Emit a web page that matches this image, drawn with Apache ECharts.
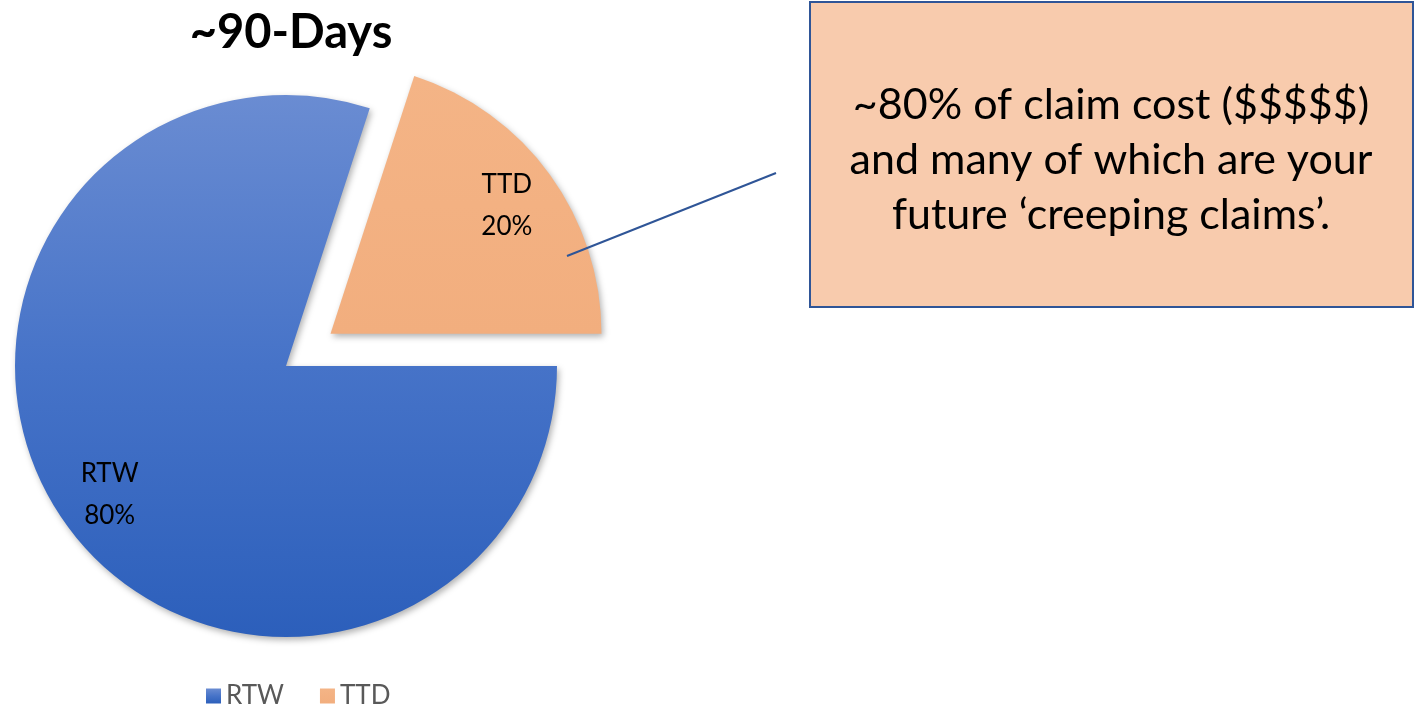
<!DOCTYPE html>
<html lang="en">
<head>
    <meta charset="UTF-8">
    <title>~90-Days</title>
    <script src="https://cdn.jsdelivr.net/npm/echarts@6/dist/echarts.min.js"></script>
    <style>
        html, body { margin: 0; padding: 0; background: #fff; }
        #main { width: 1417px; height: 707px; }
    </style>
</head>
<body>
<div id="main"></div>
<script type="text/javascript">
    // data
    var categories = ['RTW', 'TTD'];
    var values = [80, 20];
    var explodedName = 'TTD';
    var calloutLines = ['~80% of claim cost ($$$$$)', 'and many of which are your', 'future \u2018creeping claims\u2019.'];

    var font = 'Lato, "Open Sans", sans-serif';

    var sliceColors = {
        RTW: new echarts.graphic.LinearGradient(0, 0, 0, 1, [
            { offset: 0, color: '#6a8cd2' },
            { offset: 0.5, color: '#4673c8' },
            { offset: 1, color: '#2c5fbb' }
        ]),
        TTD: new echarts.graphic.LinearGradient(0, 0, 0, 1, [
            { offset: 0, color: '#f4b486' },
            { offset: 1, color: '#f2ae7e' }
        ])
    };

    var pieData = [];
    var labelData = [];
    for (var i = 0; i < categories.length; i++) {
        pieData.push({
            name: categories[i],
            value: values[i],
            selected: categories[i] === explodedName,
            itemStyle: { color: sliceColors[categories[i]] }
        });
        labelData.push({
            name: categories[i],
            value: values[i],
            selected: categories[i] === explodedName
        });
    }

    var myChart = echarts.init(document.getElementById('main'));

    var option = {
        backgroundColor: '#fff',
        animation: false,
        title: {
            text: '~90-Days',
            left: 286,
            top: 4,
            textAlign: 'center',
            textStyle: { fontFamily: font, fontWeight: 'bold', fontSize: 47, color: '#000' }
        },
        legend: {
            data: categories,
            left: 201,
            top: 678,
            icon: 'rect',
            itemWidth: 15,
            itemHeight: 15,
            itemGap: 36,
            textStyle: { fontFamily: font, fontSize: 26, color: '#595959' }
        },
        series: [{
            type: 'pie',
            center: [286, 366],
            radius: [0, 271],
            startAngle: 0,
            clockwise: true,
            selectedMode: 'single',
            selectedOffset: 55,
            label: { show: false },
            labelLine: { show: false },
            itemStyle: {
                shadowBlur: 6,
                shadowOffsetX: 2,
                shadowOffsetY: 3,
                shadowColor: 'rgba(0,0,0,0.3)'
            },
            emphasis: { disabled: true },
            data: pieData
        }, {
            // transparent copy that only places the labels at ~0.8 of the radius
            type: 'pie',
            silent: true,
            center: [286, 366],
            radius: [0, 430],
            startAngle: 0,
            clockwise: true,
            selectedMode: 'single',
            selectedOffset: 55,
            itemStyle: { color: 'rgba(0,0,0,0)' },
            label: {
                show: true,
                position: 'inside',
                formatter: '{b}\n{c}%',
                fontFamily: font,
                fontSize: 26,
                lineHeight: 42,
                color: '#000'
            },
            labelLine: { show: false },
            emphasis: { disabled: true },
            data: labelData
        }],
        graphic: [{
            type: 'line',
            z: 100,
            shape: { x1: 567, y1: 256, x2: 776, y2: 173 },
            style: { stroke: '#2f5597', lineWidth: 2 }
        }, {
            type: 'rect',
            z: 100,
            shape: { x: 810, y: 2, width: 603, height: 305 },
            style: { fill: '#f8cbad', stroke: '#2f5597', lineWidth: 2 }
        }, {
            type: 'text',
            z: 101,
            x: 1111,
            y: 160,
            style: {
                text: calloutLines.join('\n'),
                align: 'center',
                verticalAlign: 'middle',
                fontFamily: font,
                fontSize: 43,
                lineHeight: 55,
                fill: '#000'
            }
        }]
    };

    myChart.setOption(option);
</script>
</body>
</html>
